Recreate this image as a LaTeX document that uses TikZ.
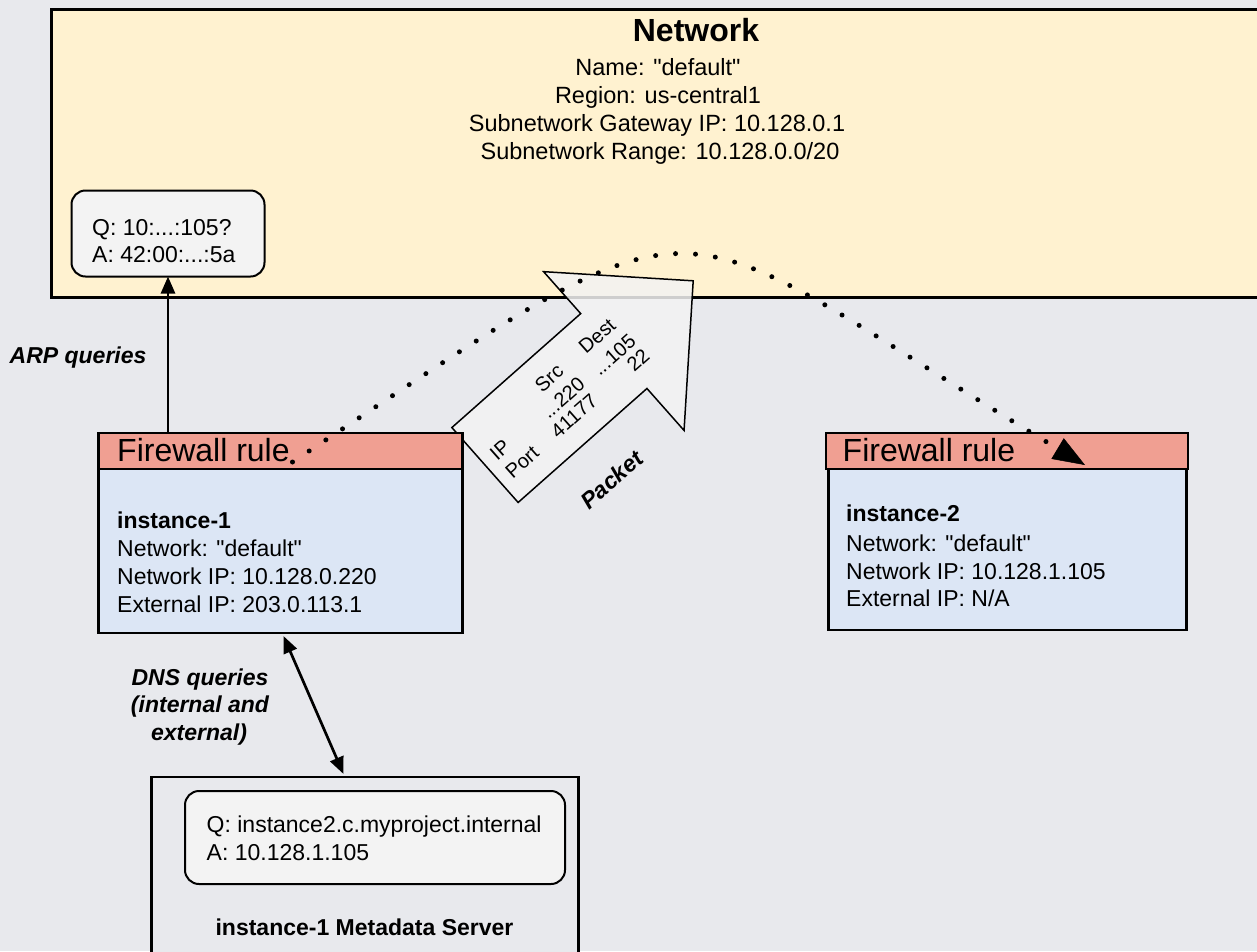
\documentclass[tikz,border=0pt]{standalone}
\usepackage{fontspec}
\setmainfont{Liberation Sans}[Ligatures=TeXOff]
\usetikzlibrary{arrows.meta,calc}
\definecolor{bg}{HTML}{E8E9ED}
\definecolor{netfill}{HTML}{FFF2D0}
\definecolor{fwfill}{HTML}{F09F92}
\definecolor{instfill}{HTML}{DCE6F5}
\definecolor{qafill}{HTML}{F3F3F3}
\definecolor{pktfill}{HTML}{F3F3F3}
\tikzset{
  box/.style={draw=black, line width=2.5pt, inner sep=0pt, outer sep=0pt, rectangle},
  qabox/.style={box, fill=qafill, rounded corners=14pt, line width=2pt},
  txt/.style={inner sep=0pt, anchor=base west, font=\fontsize{23}{28}\selectfont},
  txtb/.style={txt, font=\bfseries\fontsize{23}{28}\selectfont},
  ctxt/.style={inner sep=0pt, anchor=base, font=\fontsize{23.5}{28}\selectfont},
  lbl/.style={inner sep=0pt, anchor=base, font=\bfseries\itshape\fontsize{23}{28}\selectfont},
  fwtxt/.style={inner sep=0pt, anchor=base west, font=\fontsize{32}{38}\selectfont},
  conn/.style={draw=black, line width=2.7pt},
  mytip/.tip={Triangle[length=17pt,width=14pt]},
  bigtip/.tip={Triangle[length=32pt,width=24pt,line width=0.5pt]},
  dotline/.style={draw=black, line width=5pt, line cap=round, dash pattern=on 0pt off 20pt},
  pkttxt/.style={transform shape, inner sep=0pt, font=\fontsize{20}{24}\selectfont}
}
\begin{document}
\begin{tikzpicture}[x=1pt,y=-1pt]
\useasboundingbox (0,0) rectangle (1257,951);
\clip (0,0) rectangle (1257,951);
\fill[bg] (0,0) rectangle (1257,951);

% Network box
\node[box, line width=3pt, fill=netfill, minimum width=1240pt, minimum height=288pt] (net) at (671.5,153.5) {};
\node[inner sep=0pt, anchor=base, font=\bfseries\fontsize{32}{38}\selectfont] (nettitle) at (696,41.5) {Network};
\node[ctxt] (netname) at (658,75) {Name: "default"};
\node[ctxt] (netregion) at (658,103) {Region: us-central1};
\node[ctxt] (netgw) at (657,131) {Subnetwork Gateway IP: 10.128.0.1};
\node[ctxt] (netrange) at (660,159) {Subnetwork Range: 10.128.0.0/20};

% ARP box
\node[qabox, minimum width=193pt, minimum height=86pt] (arp) at (168,233.5) {};
\node[txt] (arpq) at (92,235) {Q: 10:...:105?};
\node[txt] (arpa) at (92,262) {A: 42:00:...:5a};

% Packet arrow
\begin{scope}[shift={(485,465)}, rotate=41.5]
\draw[line width=1.5pt, fill=pktfill, fill opacity=0.85] (0,-50) -- (172,-50) -- (172,-106) -- (278,0) -- (172,106) -- (172,50) -- (0,50) -- cycle;
\node[pkttxt] (psrc) at (105.6,-22.7) {Src};
\node[pkttxt] (pdest) at (169.4,-22.3) {Dest};
\node[pkttxt] (pip) at (21.1,-1.3) {IP};
\node[pkttxt] (psrcip) at (102.8,1.5) {...220};
\node[pkttxt] (pdestip) at (169.5,3.1) {...105};
\node[pkttxt] (pport) at (29.7,22.3) {Port};
\node[pkttxt] (psrcport) at (99.2,22.3) {41177};
\node[pkttxt] (pdestport) at (184.2,22.8) {22};
\node[transform shape, inner sep=0pt, font=\bfseries\itshape\fontsize{23}{28}\selectfont] (pktlbl) at (85,95) {Packet};
\end{scope}

% Instance 1
\node[box, fill=instfill, minimum width=364pt, minimum height=164pt] (inst1) at (280.5,551) {};
\node[box, fill=fwfill, minimum width=364pt, minimum height=36pt] (fw1) at (280.5,451) {};
\node[fwtxt] (fw1t) at (117,461.5) {Firewall rule};
\node[txtb] (i1name) at (117,528) {instance-1};
\node[txt] (i1net) at (117,556.5) {Network: "default"};
\node[txt] (i1ip) at (117,584) {Network IP: 10.128.0.220};
\node[txt] (i1ext) at (117,612.5) {External IP: 203.0.113.1};

% Instance 2
\node[box, fill=instfill, minimum width=358pt, minimum height=161pt] (inst2) at (1007.5,549.5) {};
\node[box, fill=fwfill, minimum width=362pt, minimum height=36pt] (fw2) at (1007,451) {};
\node[fwtxt] (fw2t) at (842.5,461.5) {Firewall rule};
\node[txtb] (i2name) at (846,521.5) {instance-2};
\node[txt] (i2net) at (846,551.5) {Network: "default"};
\node[txt] (i2ip) at (846,579) {Network IP: 10.128.1.105};
\node[txt] (i2ext) at (846,606.5) {External IP: N/A};

% Metadata server
\node[box, fill=bg, minimum width=427pt, minimum height=200pt] (meta) at (365,877) {};
\node[qabox, minimum width=380pt, minimum height=93pt] (dns) at (375,837.5) {};
\node[txt] (dnsq) at (206.5,832.5) {Q: instance2.c.myproject.internal};
\node[txt] (dnsa) at (206.5,860) {A: 10.128.1.105};
\node[inner sep=0pt, anchor=base, font=\bfseries\fontsize{23}{28}\selectfont] (metalbl) at (364.5,935) {instance-1 Metadata Server};

% Connectors
\draw[conn, -{mytip}] (arp.south |- fw1.north) -- (arp.south);
\node[lbl, anchor=base west] (arplbl) at (9.5,363) {ARP queries};

\draw[conn, {mytip}-{mytip}] ($(inst1.south west)+(185,3)$) -- ($(meta.north west)+(192,-3)$);
\node[lbl] (dnsl1) at (200,685) {DNS queries};
\node[lbl] (dnsl2) at (200,712.5) {(internal and};
\node[lbl] (dnsl3) at (199,740) {external)};

% Dotted packet path
\draw[dotline, -{bigtip}] ($(fw1.north west)+(194,29)$) .. controls (732,171.6) and (645,201) .. ($(fw2.north west)+(259,32)$);
\end{tikzpicture}
\end{document}
